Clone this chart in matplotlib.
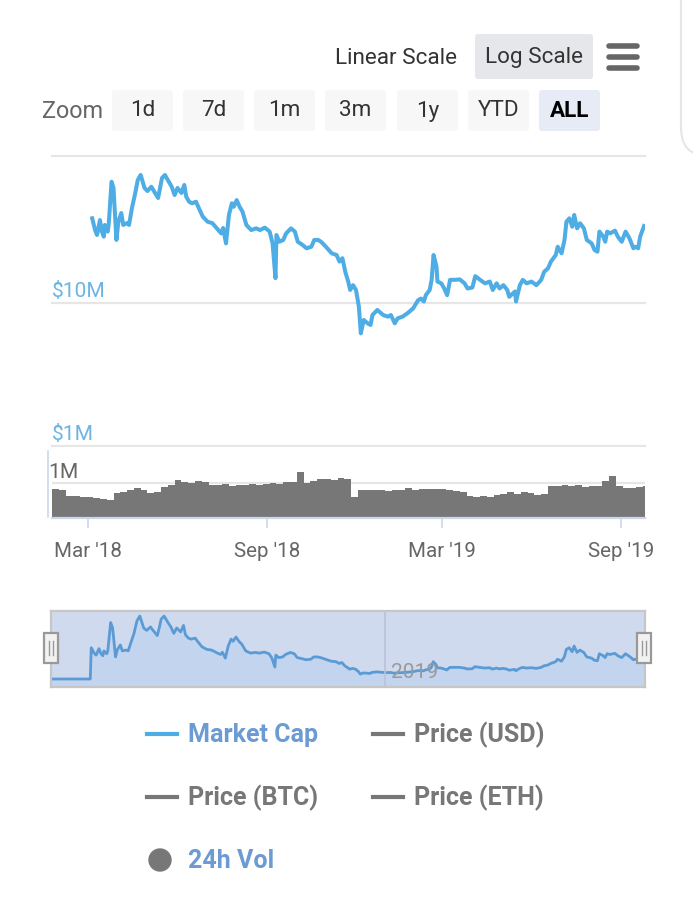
import numpy as np
import pandas as pd
import matplotlib
matplotlib.use("Agg")
import matplotlib.pyplot as plt
import matplotlib.transforms as mtransforms
from matplotlib.patches import FancyBboxPatch, Rectangle, Circle, PathPatch
from matplotlib.path import Path
from matplotlib.lines import Line2D

# market cap in $M (zeros before listing only show in the navigator)
mcap_dates = [
    "2018-01-23", "2018-03-04",
    "2018-03-05", "2018-03-08", "2018-03-10", "2018-03-13", "2018-03-15", "2018-03-17", "2018-03-18", "2018-03-21", "2018-03-22", "2018-03-25",
    "2018-03-27", "2018-03-30", "2018-04-01", "2018-04-04", "2018-04-06", "2018-04-10", "2018-04-12", "2018-04-15", "2018-04-18", "2018-04-21",
    "2018-04-24", "2018-04-28", "2018-05-01", "2018-05-05", "2018-05-07", "2018-05-12", "2018-05-14", "2018-05-16", "2018-05-19", "2018-05-23",
    "2018-05-26", "2018-05-29", "2018-06-01", "2018-06-05", "2018-06-08", "2018-06-10", "2018-06-13", "2018-06-16", "2018-06-20", "2018-06-23",
    "2018-06-27", "2018-07-02", "2018-07-07", "2018-07-13", "2018-07-16", "2018-07-18", "2018-07-21", "2018-07-24", "2018-07-27", "2018-07-29",
    "2018-08-01", "2018-08-04", "2018-08-07", "2018-08-11", "2018-08-16", "2018-08-21", "2018-08-25", "2018-08-30", "2018-09-04", "2018-09-07",
    "2018-09-10", "2018-09-11", "2018-09-14", "2018-09-18", "2018-09-21", "2018-09-26", "2018-09-30", "2018-10-03", "2018-10-08", "2018-10-12",
    "2018-10-17", "2018-10-20", "2018-10-24", "2018-10-27", "2018-11-01", "2018-11-07", "2018-11-12", "2018-11-15", "2018-11-18", "2018-11-21",
    "2018-11-24", "2018-11-26", "2018-11-29", "2018-12-02", "2018-12-05", "2018-12-07", "2018-12-10", "2018-12-14", "2018-12-17", "2018-12-19",
    "2018-12-24", "2018-12-30", "2019-01-04", "2019-01-07", "2019-01-11", "2019-01-14", "2019-01-19", "2019-01-24", "2019-01-30", "2019-02-04",
    "2019-02-07", "2019-02-10", "2019-02-12", "2019-02-16", "2019-02-18", "2019-02-20", "2019-02-23", "2019-02-24", "2019-02-28", "2019-03-03",
    "2019-03-06", "2019-03-09", "2019-03-14", "2019-03-19", "2019-03-24", "2019-03-27", "2019-04-01", "2019-04-04", "2019-04-09", "2019-04-14",
    "2019-04-19", "2019-04-22", "2019-04-26", "2019-04-29", "2019-05-03", "2019-05-07", "2019-05-09", "2019-05-15", "2019-05-16", "2019-05-20",
    "2019-05-23", "2019-05-27", "2019-06-01", "2019-06-06", "2019-06-11", "2019-06-14", "2019-06-18", "2019-06-21", "2019-06-26", "2019-06-28",
    "2019-07-02", "2019-07-05", "2019-07-07", "2019-07-10", "2019-07-13", "2019-07-15", "2019-07-18", "2019-07-21", "2019-07-25", "2019-07-28",
    "2019-08-02", "2019-08-05", "2019-08-08", "2019-08-10", "2019-08-14", "2019-08-16", "2019-08-18", "2019-08-21", "2019-08-26", "2019-08-29",
    "2019-09-02", "2019-09-06", "2019-09-10", "2019-09-14", "2019-09-16", "2019-09-19", "2019-09-21", "2019-09-25",
]
mcap_values = [
    0, 0,
    39.4, 32.6, 30.1, 38.3, 31.8, 29.3, 35.4, 31.8, 35.4, 71.1,
    64.3, 27.8, 37.3, 42.9, 35.4, 36.5, 35.4, 46.5, 57.4, 73.1,
    79.3, 64.3, 61.2, 65.6, 62.2, 54.7, 64.3, 75.5, 79.3, 71.1,
    65.6, 57.4, 64.3, 59.3, 67.5, 55.8, 51.5, 50.2, 51.5, 46.5,
    40.5, 37.3, 36.4, 32.6, 30.9, 33.7, 26.3, 41.6, 50.2, 47.5,
    52.9, 47.5, 43.9, 35.4, 32.6, 33.5, 32.6, 33.9, 31.8, 26.3,
    15.0, 30.1, 27.0, 27.8, 30.9, 33.5, 31.8, 27.0, 25.6, 24.3,
    24.9, 27.8, 27.8, 27.0, 24.9, 22.4, 21.8, 19.6, 20.7, 16.6,
    14.2, 12.4, 13.4, 12.4, 9.47, 6.16, 7.64, 7.24, 7.05, 8.28,
    8.98, 8.28, 8.06, 8.28, 7.24, 7.85, 8.06, 8.51, 9.22, 10.5,
    10.8, 10.3, 11.4, 12.4, 14.6, 21.8, 18.1, 14.2, 13.8, 12.7,
    11.4, 14.6, 14.6, 14.7, 13.8, 12.7, 12.9, 15.5, 14.6, 13.8,
    14.2, 12.4, 13.8, 12.7, 13.4, 12.4, 11.1, 12.1, 10.3, 13.4,
    14.6, 13.8, 14.2, 13.4, 14.6, 16.6, 17.6, 19.6, 21.8, 24.9,
    22.4, 27.8, 37.3, 39.4, 34.4, 41.6, 33.5, 36.4, 33.5, 27.8,
    26.3, 23.6, 23.0, 31.8, 29.3, 27.0, 31.8, 30.9, 32.3, 29.3,
    27.0, 31.8, 28.5, 24.3, 24.9, 24.3, 29.3, 34.8,
]

# weekly 24h volume in millions
vol_start = "2018-01-23"
vol_values = [
    0.84, 0.80, 0.63, 0.64, 0.61, 0.62, 0.57, 0.55, 0.53, 0.72,
    0.76, 0.80, 0.86, 0.82, 0.72, 0.76, 0.90, 0.94, 1.10, 1.04,
    1.02, 1.06, 1.03, 0.96, 0.95, 0.97, 0.93, 0.96, 0.94, 0.97,
    0.95, 0.99, 1.02, 0.98, 1.03, 1.05, 1.33, 1.02, 1.06, 1.12,
    1.13, 1.11, 1.15, 1.12, 0.60, 0.80, 0.82, 0.80, 0.81, 0.79,
    0.82, 0.80, 0.86, 0.82, 0.84, 0.85, 0.83, 0.84, 0.80, 0.78,
    0.76, 0.64, 0.62, 0.63, 0.61, 0.65, 0.68, 0.74, 0.70, 0.76,
    0.72, 0.66, 0.70, 0.93, 0.91, 0.94, 0.92, 0.95, 0.90, 0.91,
    0.93, 1.07, 1.20, 0.92, 0.88, 0.87, 0.89, 0.93,
]

tick_dates = ["2018-03-01", "2018-09-01", "2019-03-01", "2019-09-01"]
tick_labels = ["Mar '18", "Sep '18", "Mar '19", "Sep '19"]
zoom_buttons = ["1d", "7d", "1m", "3m", "1y", "YTD", "ALL"]
legend_items = ["Market Cap", "Price (USD)", "Price (BTC)", "Price (ETH)", "24h Vol"]

W, H = 693, 912
plt.rcParams['font.family'] = ['Roboto', 'DejaVu Sans']

fig = plt.figure(figsize=(W / 100, H / 100), dpi=100)
fig.patch.set_facecolor('white')
# pixel coordinates, y going down
px = mtransforms.Affine2D().scale(1 / W, -1 / H).translate(0, 1) + fig.transFigure


def fs(p):
    return p * 0.72


def rect(x0, y0, x1, y1):
    return [x0 / W, 1 - y1 / H, (x1 - x0) / W, (y1 - y0) / H]


dates = pd.to_datetime(mcap_dates)
mcap = np.array(mcap_values) * 1e6
xlim = (pd.Timestamp("2018-01-22 14:00"), pd.Timestamp("2019-09-26"))

line_col = '#4fade5'
grid_col = '#e6e6e6'
axis_col = '#ccd6eb'

# ---- main log chart
ax = fig.add_axes(rect(52, 157, 645, 447))
ax.set_yscale('log')
ax.set_ylim(1e6, 10 ** (6 + 290 / 142.7))
ax.set_xlim(*xlim)
mc_log = np.where(mcap > 0, mcap, np.nan)
ax.plot(dates, mc_log, color=line_col, lw=2.9, solid_joinstyle='round')
for lvl in [1e6, 1e7, ax.get_ylim()[1]]:
    ax.axhline(lvl, color=grid_col, lw=1.6, clip_on=False, zorder=0)
for s in ax.spines.values():
    s.set_visible(False)
ax.set_xticks([])
ax.set_yticks([])
ax.set_yticks([], minor=True)
for lvl, lab in [(1e7, r'\$10M'), (1e6, r'\$1M')]:
    ax.annotate(lab, xy=(0, lvl), xycoords=('axes fraction', 'data'),
                xytext=(0, 3), textcoords='offset pixels',
                va='bottom', ha='left', fontsize=fs(21), color='#6cb4e2')

# ---- volume pane
axv = fig.add_axes(rect(52, 448, 645, 519))
vdates = pd.date_range(vol_start, periods=len(vol_values), freq='7D')
axv.bar(vdates, np.array(vol_values) * 1e6, width=7, align='edge',
        color='#777777', linewidth=0)
axv.set_xlim(*xlim)
axv.set_ylim(0, 2.05e6)
axv.axhline(1e6, color=grid_col, lw=1.6, zorder=0)
for k, s in axv.spines.items():
    s.set_visible(k == 'bottom')
axv.spines['bottom'].set_color(axis_col)
axv.spines['bottom'].set_linewidth(1.6)
axv.set_yticks([])
axv.set_xticks(pd.to_datetime(tick_dates))
axv.set_xticklabels(tick_labels)
axv.tick_params(axis='x', length=7.5, width=1.2, color=axis_col,
                labelcolor='#666666', labelsize=fs(20.5), pad=9)
axv.annotate('1M', xy=(0, 1e6), xycoords=('axes fraction', 'data'),
             xytext=(-4, 2), textcoords='offset pixels',
             va='bottom', ha='left', fontsize=fs(21), color='#666666')
fig.add_artist(Line2D([47.5, 47.5], [452, 518], transform=px, color=axis_col, lw=1.2))

# ---- navigator
axn = fig.add_axes(rect(51, 612, 645, 688))
axn.set_facecolor('#d0daee')
nmax = mcap.max()
axn.set_ylim(-0.127 * nmax, 1.08 * nmax)
axn.set_xlim(*xlim)
axn.fill_between(dates, mcap, -0.127 * nmax, color='#c3d4ef', lw=0)
axn.plot(dates, mcap, color='#5b9bd5', lw=2.0)
axn.axvline(pd.Timestamp("2019-01-01"), color='#b8c2d6', lw=1.2)
axn.annotate('2019', xy=(pd.Timestamp("2019-01-01"), 0.5), xycoords=('data', 'axes fraction'),
             xytext=(6, -22), textcoords='offset pixels', ha='left', va='center',
             fontsize=fs(21), color='#999999')
axn.set_xticks([])
axn.set_yticks([])
for s in axn.spines.values():
    s.set_color('#c6c6c6')
    s.set_linewidth(1.6)

for hx in (51, 644):
    fig.add_artist(Rectangle((hx - 7, 634), 14, 30, transform=px,
                             facecolor='#f2f2f2', edgecolor='#999999', lw=1.6))
    for dx in (-2, 2):
        fig.add_artist(Line2D([hx + dx, hx + dx], [642, 656], transform=px,
                              color='#999999', lw=1))

# ---- top controls
fig.text(396, 58, 'Linear Scale', transform=px, ha='center', va='center',
         fontsize=fs(22.5), color='#333333')
fig.add_artist(FancyBboxPatch((475, 35), 118, 45, transform=px,
                              boxstyle='round,pad=0,rounding_size=3',
                              facecolor='#e6e7ea', edgecolor='none'))
fig.text(534, 58, 'Log Scale', transform=px, ha='center', va='center',
         fontsize=fs(22.5), color='#333333')
for yy in (47, 58, 69):
    fig.add_artist(Line2D([609, 637], [yy, yy], transform=px, color='#666666',
                          lw=4, solid_capstyle='round'))

fig.text(42, 112, 'Zoom', transform=px, ha='left', va='center',
         fontsize=fs(23.5), color='#666666')
bx = [112, 183, 254, 325, 397, 468, 539]
for x0, lab in zip(bx, zoom_buttons):
    sel = lab == 'ALL'
    fig.add_artist(FancyBboxPatch((x0, 91), 61, 41, transform=px,
                                  boxstyle='round,pad=0,rounding_size=3',
                                  facecolor='#e6ebf5' if sel else '#f7f7f7',
                                  edgecolor='none'))
    fig.text(x0 + 30.5, 111, lab, transform=px, ha='center', va='center',
             fontsize=fs(22.5), color='#000000' if sel else '#333333',
             fontweight='bold' if sel else 'normal')

# right card edge
card = Path([(681, 0), (681, 128), (681, 156), (705, 156)],
            [Path.MOVETO, Path.LINETO, Path.CURVE3, Path.CURVE3])
fig.add_artist(PathPatch(card, transform=px, facecolor='none', edgecolor='#e6e6e6', lw=1.5))

# ---- legend
blue_txt = '#6b9bd2'
grey = '#777777'
leg_pos = [(147, 735), (373, 735), (147, 798), (373, 798), (147, 861)]
for (lx, ly), lab in zip(leg_pos, legend_items):
    col_txt = blue_txt if lab in ('Market Cap', '24h Vol') else grey
    if lab == '24h Vol':
        fig.add_artist(Circle((lx + 13, ly), 11, transform=px, color=grey))
    else:
        fig.add_artist(Line2D([lx, lx + 30], [ly, ly], transform=px, lw=3,
                              color=line_col if lab == 'Market Cap' else grey))
    fig.text(lx + 41, ly, lab, transform=px, ha='left', va='center',
             fontsize=fs(25), fontweight='bold', color=col_txt)

fig.savefig('out.png', dpi=100)
